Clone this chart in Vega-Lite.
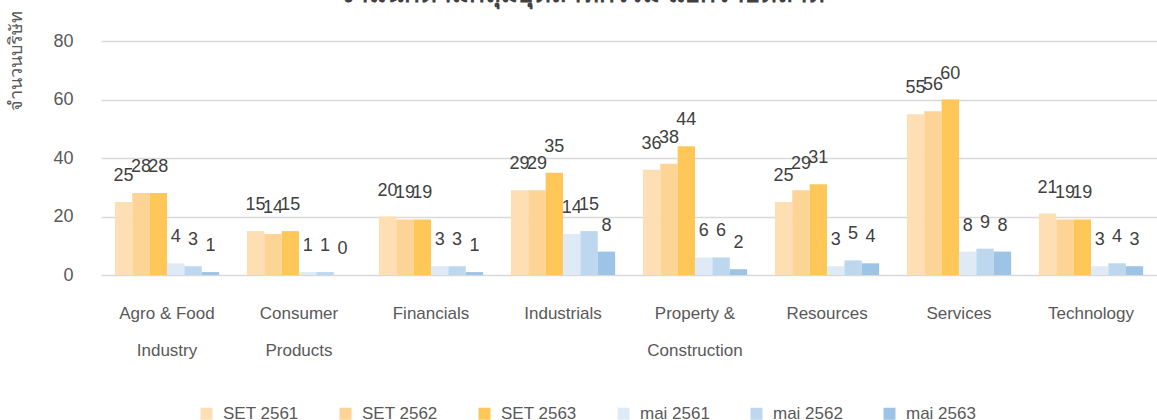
{
  "$schema": "https://vega.github.io/schema/vega-lite/v6.json",
  "autosize": {"type": "none"},
  "width": 1056,
  "height": 234,
  "padding": {"left": 101, "top": 41, "right": 0, "bottom": 145},
  "background": "white",
  "title": {
    "text": "จำแนกตามกลุ่มอุตสาหกรรม แยกรายตลาด",
    "fontSize": 26,
    "fontWeight": "bold",
    "color": "#404040",
    "font": "Liberation Sans, Noto Sans",
    "anchor": "middle",
    "frame": "bounds",
    "baseline": "alphabetic",
    "offset": -18
  },
  "config": {
    "view": {"stroke": null},
    "font": "Liberation Sans, Noto Sans"
  },
  "data": {
    "values": [
      {"category": "Agro & Food Industry", "series": "SET 2561", "value": 25},
      {"category": "Agro & Food Industry", "series": "SET 2562", "value": 28},
      {"category": "Agro & Food Industry", "series": "SET 2563", "value": 28},
      {"category": "Agro & Food Industry", "series": "mai 2561", "value": 4},
      {"category": "Agro & Food Industry", "series": "mai 2562", "value": 3},
      {"category": "Agro & Food Industry", "series": "mai 2563", "value": 1},
      {"category": "Consumer Products", "series": "SET 2561", "value": 15},
      {"category": "Consumer Products", "series": "SET 2562", "value": 14},
      {"category": "Consumer Products", "series": "SET 2563", "value": 15},
      {"category": "Consumer Products", "series": "mai 2561", "value": 1},
      {"category": "Consumer Products", "series": "mai 2562", "value": 1},
      {"category": "Consumer Products", "series": "mai 2563", "value": 0},
      {"category": "Financials", "series": "SET 2561", "value": 20},
      {"category": "Financials", "series": "SET 2562", "value": 19},
      {"category": "Financials", "series": "SET 2563", "value": 19},
      {"category": "Financials", "series": "mai 2561", "value": 3},
      {"category": "Financials", "series": "mai 2562", "value": 3},
      {"category": "Financials", "series": "mai 2563", "value": 1},
      {"category": "Industrials", "series": "SET 2561", "value": 29},
      {"category": "Industrials", "series": "SET 2562", "value": 29},
      {"category": "Industrials", "series": "SET 2563", "value": 35},
      {"category": "Industrials", "series": "mai 2561", "value": 14},
      {"category": "Industrials", "series": "mai 2562", "value": 15},
      {"category": "Industrials", "series": "mai 2563", "value": 8},
      {"category": "Property & Construction", "series": "SET 2561", "value": 36},
      {"category": "Property & Construction", "series": "SET 2562", "value": 38},
      {"category": "Property & Construction", "series": "SET 2563", "value": 44},
      {"category": "Property & Construction", "series": "mai 2561", "value": 6},
      {"category": "Property & Construction", "series": "mai 2562", "value": 6},
      {"category": "Property & Construction", "series": "mai 2563", "value": 2},
      {"category": "Resources", "series": "SET 2561", "value": 25},
      {"category": "Resources", "series": "SET 2562", "value": 29},
      {"category": "Resources", "series": "SET 2563", "value": 31},
      {"category": "Resources", "series": "mai 2561", "value": 3},
      {"category": "Resources", "series": "mai 2562", "value": 5},
      {"category": "Resources", "series": "mai 2563", "value": 4},
      {"category": "Services", "series": "SET 2561", "value": 55},
      {"category": "Services", "series": "SET 2562", "value": 56},
      {"category": "Services", "series": "SET 2563", "value": 60},
      {"category": "Services", "series": "mai 2561", "value": 8},
      {"category": "Services", "series": "mai 2562", "value": 9},
      {"category": "Services", "series": "mai 2563", "value": 8},
      {"category": "Technology", "series": "SET 2561", "value": 21},
      {"category": "Technology", "series": "SET 2562", "value": 19},
      {"category": "Technology", "series": "SET 2563", "value": 19},
      {"category": "Technology", "series": "mai 2561", "value": 3},
      {"category": "Technology", "series": "mai 2562", "value": 4},
      {"category": "Technology", "series": "mai 2563", "value": 3}
    ]
  },
  "encoding": {
    "x": {
      "field": "category",
      "type": "nominal",
      "sort": null,
      "scale": {"paddingInner": 0.21, "paddingOuter": 0.105},
      "axis": {
        "title": null,
        "labelAngle": 0,
        "labelFontSize": 17,
        "labelColor": "#595959",
        "labelPadding": 38,
        "labelLineHeight": 37,
        "labelBaseline": "middle",
        "ticks": false,
        "domain": false,
        "labelExpr": "datum.value == 'Agro & Food Industry' ? ['Agro & Food', 'Industry'] : datum.value == 'Consumer Products' ? ['Consumer', 'Products'] : datum.value == 'Property & Construction' ? ['Property &', 'Construction'] : datum.value"
      }
    },
    "xOffset": {
      "field": "series",
      "type": "nominal",
      "sort": ["SET 2561", "SET 2562", "SET 2563", "mai 2561", "mai 2562", "mai 2563"],
      "scale": {"paddingInner": 0, "paddingOuter": 0}
    },
    "y": {
      "field": "value",
      "type": "quantitative",
      "scale": {"domain": [0, 80], "nice": false},
      "axis": {
        "title": "จำนวนบริษัท",
        "titleFontSize": 18,
        "titleFontWeight": "normal",
        "titleColor": "#595959",
        "titleAngle": -90,
        "titleX": -85,
        "titleY": -31,
        "titleAlign": "right",
        "titleBaseline": "middle",
        "values": [0, 20, 40, 60, 80],
        "labelFontSize": 18,
        "labelColor": "#595959",
        "labelPadding": 28,
        "ticks": false,
        "domain": false,
        "gridColor": "#D9D9D9",
        "gridWidth": 1.5
      }
    }
  },
  "layer": [
    {
      "mark": {"type": "bar"},
      "encoding": {
        "color": {
          "field": "series",
          "type": "nominal",
          "sort": ["SET 2561", "SET 2562", "SET 2563", "mai 2561", "mai 2562", "mai 2563"],
          "scale": {
            "domain": ["SET 2561", "SET 2562", "SET 2563", "mai 2561", "mai 2562", "mai 2563"],
            "range": ["#FEDFB4", "#FDD496", "#FFC658", "#DEEBF7", "#BDD7EE", "#9DC3E6"]
          },
          "legend": {
            "title": null,
            "orient": "none",
            "direction": "horizontal",
            "legendX": 97,
            "legendY": 364,
            "symbolType": "square",
            "symbolSize": 144,
            "symbolStrokeWidth": 0,
            "labelFontSize": 17,
            "labelColor": "#595959",
            "labelOffset": 8,
            "columnPadding": 38
          }
        }
      }
    },
    {
      "mark": {"type": "text", "baseline": "middle", "dy": -26, "fontSize": 18, "color": "#404040"},
      "encoding": {
        "text": {"field": "value", "type": "quantitative"}
      }
    }
  ]
}
